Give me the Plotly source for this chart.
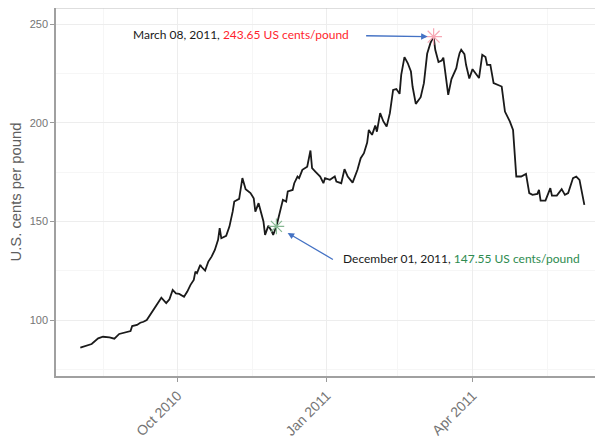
import plotly.graph_objects as go

dates = [
    "2010-08-02", "2010-08-05", "2010-08-09", "2010-08-13", "2010-08-16", "2010-08-20",
    "2010-08-23", "2010-08-26", "2010-08-31", "2010-09-02", "2010-09-03", "2010-09-06",
    "2010-09-08", "2010-09-10", "2010-09-12", "2010-09-14", "2010-09-16", "2010-09-19",
    "2010-09-21", "2010-09-24", "2010-09-26", "2010-09-28", "2010-09-30", "2010-10-02",
    "2010-10-05", "2010-10-07", "2010-10-09", "2010-10-11", "2010-10-12", "2010-10-13",
    "2010-10-15", "2010-10-16", "2010-10-18", "2010-10-20", "2010-10-22", "2010-10-24",
    "2010-10-26", "2010-10-27", "2010-10-28", "2010-10-31", "2010-11-02", "2010-11-04",
    "2010-11-05", "2010-11-08", "2010-11-10", "2010-11-12", "2010-11-15", "2010-11-17",
    "2010-11-18", "2010-11-20", "2010-11-21", "2010-11-23", "2010-11-24", "2010-11-26",
    "2010-11-28", "2010-11-29", "2010-12-01", "2010-12-03", "2010-12-05", "2010-12-07",
    "2010-12-08", "2010-12-11", "2010-12-12", "2010-12-14", "2010-12-15", "2010-12-17",
    "2010-12-20", "2010-12-22", "2010-12-23", "2010-12-25", "2010-12-28", "2010-12-30",
    "2010-12-31", "2011-01-03", "2011-01-05", "2011-01-06", "2011-01-07", "2011-01-10",
    "2011-01-12", "2011-01-14", "2011-01-17", "2011-01-20", "2011-01-22", "2011-01-24",
    "2011-01-26", "2011-01-27", "2011-01-29", "2011-01-31", "2011-02-01", "2011-02-03",
    "2011-02-05", "2011-02-07", "2011-02-09", "2011-02-11", "2011-02-13", "2011-02-15",
    "2011-02-16", "2011-02-18", "2011-02-20", "2011-02-22", "2011-02-23", "2011-02-25",
    "2011-02-28", "2011-03-02", "2011-03-04", "2011-03-06", "2011-03-08", "2011-03-09",
    "2011-03-11", "2011-03-13", "2011-03-14", "2011-03-17", "2011-03-19", "2011-03-22",
    "2011-03-23", "2011-03-24", "2011-03-25", "2011-03-27", "2011-03-28", "2011-03-30",
    "2011-04-01", "2011-04-03", "2011-04-05", "2011-04-07", "2011-04-09", "2011-04-10",
    "2011-04-12", "2011-04-14", "2011-04-17", "2011-04-19", "2011-04-21", "2011-04-24",
    "2011-04-26", "2011-04-28", "2011-05-01", "2011-05-04", "2011-05-06", "2011-05-08",
    "2011-05-11", "2011-05-12", "2011-05-13", "2011-05-16", "2011-05-19", "2011-05-20",
    "2011-05-23", "2011-05-26", "2011-05-28", "2011-05-30", "2011-06-02", "2011-06-04",
    "2011-06-06", "2011-06-09",
]

prices = [
    86.1, 86.9, 87.9, 90.8, 91.6, 91.3,
    90.6, 93.0, 94.2, 94.5, 97.0, 97.6,
    98.7, 99.2, 100.1, 102.6, 105.2, 109.4,
    111.4, 108.6, 110.6, 115.3, 113.6, 113.3,
    111.9, 114.5, 117.9, 120.4, 124.6, 123.8,
    128.0, 126.8, 125.1, 129.7, 132.2, 135.6,
    140.7, 146.6, 141.5, 142.7, 147.4, 155.0,
    160.1, 161.5, 172.0, 166.4, 164.4, 161.8,
    155.0, 159.3, 155.9, 150.0, 143.2, 147.8,
    145.2, 143.2, 147.55, 155.0, 161.0, 160.1,
    165.2, 166.0, 169.4, 172.8, 172.0, 176.2,
    177.8, 186.0, 177.0, 175.3, 172.8, 169.4,
    172.0, 171.1, 172.0, 172.8, 170.2, 169.4,
    176.5, 172.8, 169.7, 176.2, 182.1, 184.6,
    190.0, 196.4, 193.9, 198.6, 195.5, 204.9,
    200.7, 198.1, 204.9, 216.7, 217.1, 214.7,
    224.3, 233.3, 230.3, 226.0, 218.4, 209.6,
    213.0, 220.1, 235.0, 240.4, 243.65, 237.0,
    230.8, 231.6, 233.0, 214.2, 222.2, 227.7,
    231.9, 235.3, 237.0, 234.8, 229.4, 222.5,
    227.2, 225.2, 222.7, 234.5, 233.3, 229.4,
    229.4, 220.1, 219.3, 218.4, 205.7, 200.7,
    196.4, 172.8, 172.8, 174.1, 164.4, 163.5,
    164.0, 166.0, 160.6, 160.6, 166.9, 163.1,
    163.1, 166.4, 163.5, 164.4, 172.0, 172.8,
    171.1, 158.4,
]

peak_date = "2011-03-08"
peak_value = 243.65
low_date = "2010-12-01"
low_value = 147.55

y_ticks = [100, 150, 200, 250]
y_minor = [75, 125, 175, 225]
x_ticks = ["2010-10-01", "2011-01-01", "2011-04-01"]
x_ticklabels = ["Oct 2010", "Jan 2011", "Apr 2011"]
x_minor = ["2010-08-16", "2010-11-16", "2011-02-14", "2011-05-17"]

peak_label = "March 08, 2011, <span style='color:#FF1F2E'>243.65 US cents/pound</span>"
low_label = "December 01, 2011, <span style='color:#2E8B4F'>147.55 US cents/pound</span>"
y_title = "U.S. cents per pound"

fig = go.Figure()
fig.add_trace(go.Scatter(
    x=dates, y=prices, mode="lines",
    line=dict(color="#1a1a1a", width=1.8),
    hoverinfo="skip", showlegend=False,
))
fig.add_trace(go.Scatter(
    x=[peak_date], y=[peak_value], mode="markers",
    marker=dict(symbol="asterisk-open", size=14, color="#F7A8B5",
                line=dict(color="#F7A8B5", width=1.2)),
    showlegend=False,
))
fig.add_trace(go.Scatter(
    x=[low_date], y=[low_value], mode="markers",
    marker=dict(symbol="asterisk-open", size=13, color="#86B892",
                line=dict(color="#86B892", width=1.2)),
    showlegend=False,
))

ann_font = dict(family="Lato, Open Sans, sans-serif", size=12, color="#1a1a1a")
fig.add_annotation(x=peak_date, y=peak_value, text=peak_label, showarrow=False,
                   xanchor="left", yanchor="middle", xshift=-302, yshift=2,
                   font=ann_font, borderpad=0)
fig.add_annotation(x=peak_date, y=peak_value, text="", showarrow=True,
                   ax=-69, ay=-1, arrowhead=2, arrowsize=1, arrowwidth=1.3,
                   arrowcolor="#4472C4", standoff=6)
fig.add_annotation(x=low_date, y=low_value, text=low_label, showarrow=False,
                   xanchor="left", yanchor="middle", xshift=66, yshift=-32,
                   font=ann_font, borderpad=0)
fig.add_annotation(x=low_date, y=low_value, text="", showarrow=True,
                   ax=58, ay=34, arrowhead=2, arrowsize=1, arrowwidth=1.3,
                   arrowcolor="#4472C4", standoff=13)

fig.add_shape(type="line", xref="paper", yref="paper", x0=0, x1=1, y0=1, y1=1,
              line=dict(color="#BDBDBD", width=1))

base_font = "Arial, Liberation Sans, sans-serif"
fig.update_layout(
    width=595, height=432,
    margin=dict(l=48, r=0, t=0, b=64),
    paper_bgcolor="white", plot_bgcolor="white",
    font=dict(family=base_font, color="#6b6b6b"),
    showlegend=False,
)
fig.update_xaxes(
    range=["2010-07-18", "2011-06-20 12:00"],
    tickmode="array", tickvals=x_ticks, ticktext=x_ticklabels,
    tickangle=-45, tickfont=dict(family=base_font, size=14, color="#747474"),
    ticks="outside", ticklen=4, tickwidth=1.2, tickcolor="#9a9a9a",
    showline=True, linecolor="#a0a0a0", linewidth=2,
    showgrid=True, gridcolor="#EDEDED", gridwidth=1,
    minor=dict(tickmode="array", tickvals=x_minor, showgrid=True,
               gridcolor="#F6F6F6", gridwidth=0.8),
    zeroline=False,
)
fig.update_yaxes(
    range=[71.7, 258.2],
    tickmode="array", tickvals=y_ticks,
    tickfont=dict(family=base_font, size=11, color="#747474"),
    ticks="outside", ticklen=4, tickwidth=1.2, tickcolor="#9a9a9a",
    showline=True, linecolor="#a0a0a0", linewidth=1.5,
    showgrid=True, gridcolor="#EDEDED", gridwidth=1,
    minor=dict(tickmode="array", tickvals=y_minor, showgrid=True,
               gridcolor="#F6F6F6", gridwidth=0.8),
    zeroline=False,
    title=dict(text=y_title, font=dict(family=base_font, size=14.8, color="#5e5e5e"), standoff=7),
)

fig.write_html("out.html")
